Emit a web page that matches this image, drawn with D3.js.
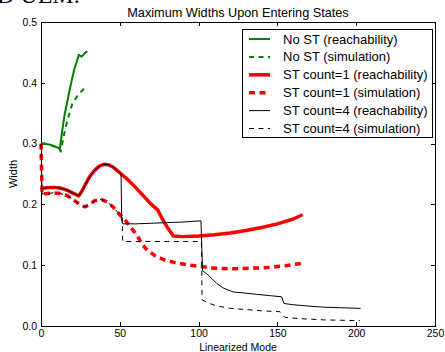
<!DOCTYPE html>
<html>
<head>
  <meta charset="utf-8">
  <script src="https://d3js.org/d3.v7.min.js"></script>
  <style>
    body { margin: 0; background: #fff; }
    svg { display: block; font-family: 'Liberation Sans', Arial, sans-serif; }
    .axis path, .axis line { stroke: #000; shape-rendering: crispEdges; }
    .axis text { font-size: 10.5px; fill: #000; }
  </style>
</head>
<body>
<script>
// data: [linearized mode, width]
var noStReach = [[0,0.300],[2,0.300],[4,0.299],[6,0.298],[8,0.296],[10,0.294],[12,0.292],[13.5,0.322],[15,0.348],[17.3,0.377],[19,0.398],[21,0.421],[24,0.446],[25.8,0.443],[27.5,0.448],[29.4,0.452]];
var noStSim = [[0,0.300],[4,0.299],[8,0.296],[12,0.290],[12.5,0.287],[15.2,0.322],[17.5,0.345],[19.9,0.366],[23.5,0.380],[27.5,0.391]];
var st1Reach = [[0,0.226],[4,0.2275],[8,0.228],[12,0.227],[16,0.224],[20,0.219],[24,0.214],[26,0.222],[28,0.232],[31,0.246],[34,0.256],[37,0.263],[40,0.266],[43,0.265],[46,0.261],[50,0.252],[55,0.241],[60,0.228],[65,0.214],[70,0.200],[74,0.191],[77,0.176],[80,0.163],[84,0.148],[90,0.147],[100,0.148],[110,0.150],[120,0.153],[130,0.157],[140,0.162],[150,0.168],[160,0.176],[166,0.183]];
var st1Sim = [[0,0.300],[0.7,0.217],[4,0.218],[8,0.219],[12,0.218],[16,0.215],[20,0.209],[24,0.201],[27.9,0.196],[31,0.200],[34,0.206],[38.5,0.208],[42,0.204],[46,0.195],[50,0.183],[54,0.172],[58,0.159],[61,0.149],[64,0.135],[67,0.126],[72,0.116],[78,0.109],[84,0.105],[92,0.101],[101,0.098],[110,0.095],[122,0.094],[132,0.095],[143,0.096],[155,0.099],[165,0.103]];
var st4Reach = [[0,0.226],[4,0.2275],[8,0.228],[12,0.227],[16,0.224],[20,0.219],[24,0.214],[26,0.222],[28,0.232],[31,0.246],[34,0.256],[37,0.263],[40,0.266],[43,0.265],[46,0.261],[50.8,0.250],[51.2,0.173],[52,0.168],[60,0.168],[70,0.169],[80,0.170],[90,0.171],[101.5,0.173],[102.5,0.091],[106,0.084],[111.5,0.070],[116,0.062],[122,0.056],[130,0.054],[137,0.052],[145,0.050],[152.7,0.048],[154.2,0.037],[160,0.035],[168.6,0.033],[179,0.031],[190,0.030],[202.8,0.029]];
var st4Sim = [[0,0.300],[0.7,0.217],[4,0.218],[8,0.219],[12,0.218],[16,0.215],[20,0.209],[24,0.201],[27.9,0.196],[31,0.200],[34,0.206],[38.5,0.208],[42,0.204],[46,0.195],[50,0.183],[51.6,0.178],[51.8,0.139],[60,0.139],[80,0.139],[101.8,0.139],[102.2,0.043],[106,0.038],[111.5,0.033],[120,0.029],[130,0.027],[140,0.025],[151.6,0.0235],[154.8,0.0142],[165,0.012],[180,0.010],[190,0.0095],[202.4,0.0087]];

var legendLabels = ["No ST (reachability)", "No ST (simulation)", "ST count=1 (reachability)", "ST count=1 (simulation)", "ST count=4 (reachability)", "ST count=4 (simulation)"];
var xTicks = [0, 50, 100, 150, 200, 250];
var yTicks = [0.0, 0.1, 0.2, 0.3, 0.4, 0.5];

// series styles, same order as the legend
var series = [
  {data: noStReach, color: "#008000", width: 2,   dash: null},
  {data: noStSim,   color: "#008000", width: 2,   dash: "5,4.5"},
  {data: st1Reach,  color: "#ff0000", width: 3.5, dash: null},
  {data: st1Sim,    color: "#ff0000", width: 3.5, dash: "6,4.5"},
  {data: st4Reach,  color: "#000000", width: 1,   dash: null},
  {data: st4Sim,    color: "#000000", width: 1,   dash: "5,4.5"}
];

var W = 445, H = 352;
var plotL = 41, plotR = 435, plotT = 22, plotB = 326;

var svg = d3.select("body").append("svg")
    .attr("width", W)
    .attr("height", H);

// cut off heading from the page the figure was taken from
svg.append("text")
    .attr("x", -3).attr("y", 3)
    .style("font-family", "'Liberation Serif', serif")
    .style("font-size", "24px")
    .text("D UEM.");

var x = d3.scaleLinear().domain([0, 250]).range([plotL, plotR]);
var y = d3.scaleLinear().domain([0, 0.5]).range([plotB, plotT]);

//axes, ticks point inward on all four sides
svg.append("g").attr("class", "axis")
    .attr("transform", "translate(0," + plotB + ")")
    .call(d3.axisBottom(x).tickValues(xTicks).tickSizeInner(-4).tickSizeOuter(0).tickPadding(4));
svg.append("g").attr("class", "axis")
    .attr("transform", "translate(0," + plotT + ")")
    .call(d3.axisTop(x).tickValues(xTicks).tickSizeInner(-4).tickSizeOuter(0).tickFormat(""));
svg.append("g").attr("class", "axis")
    .attr("transform", "translate(" + plotL + ",0)")
    .call(d3.axisLeft(y).tickValues(yTicks).tickSizeInner(-4).tickSizeOuter(0).tickPadding(4).tickFormat(d3.format(".1f")));
svg.append("g").attr("class", "axis")
    .attr("transform", "translate(" + plotR + ",0)")
    .call(d3.axisRight(y).tickValues(yTicks).tickSizeInner(-4).tickSizeOuter(0).tickFormat(""));

//lines
var line = d3.line()
    .x(function(d) { return x(d[0]); })
    .y(function(d) { return y(d[1]); });

series.forEach(function(s) {
  svg.append("path")
      .datum(s.data)
      .attr("d", line)
      .attr("fill", "none")
      .attr("stroke", s.color)
      .attr("stroke-width", s.width)
      .attr("stroke-dasharray", s.dash)
      .attr("stroke-linejoin", "round");
});

//title and axis labels
svg.append("text")
    .attr("x", (plotL + plotR) / 2).attr("y", 17)
    .attr("text-anchor", "middle")
    .style("font-size", "12.7px")
    .text("Maximum Widths Upon Entering States");

svg.append("text")
    .attr("x", (plotL + plotR) / 2).attr("y", 351)
    .attr("text-anchor", "middle")
    .style("font-size", "10.5px")
    .text("Linearized Mode");

svg.append("text")
    .attr("transform", "translate(17," + (plotT + plotB) / 2 + ") rotate(-90)")
    .attr("text-anchor", "middle")
    .style("font-size", "11px")
    .text("Width");

//legend
var lg = svg.append("g");
lg.append("rect")
    .attr("x", 242.5).attr("y", 29.5)
    .attr("width", 190).attr("height", 108)
    .attr("fill", "#fff")
    .attr("stroke", "#000")
    .attr("stroke-width", 1);

legendLabels.forEach(function(label, i) {
  var s = series[i];
  var ly = 39 + i * 17.9;
  lg.append("line")
      .attr("x1", 249).attr("x2", 270)
      .attr("y1", ly).attr("y2", ly)
      .attr("stroke", s.color)
      .attr("stroke-width", s.width)
      .attr("stroke-dasharray", s.dash);
  lg.append("text")
      .attr("x", 283).attr("y", ly)
      .attr("dy", "0.35em")
      .style("font-size", "13px")
      .text(label);
});
</script>
</body>
</html>
